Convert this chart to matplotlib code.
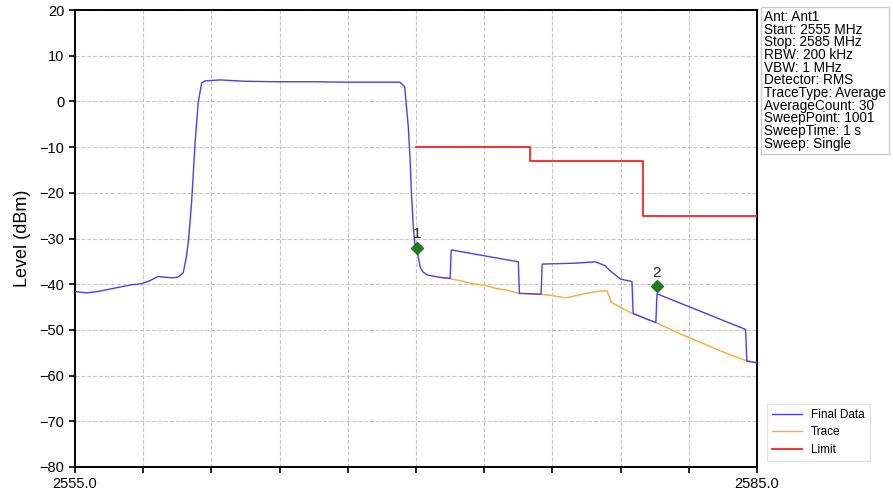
import matplotlib
matplotlib.use("Agg")
import matplotlib.pyplot as plt
import numpy as np

plt.rcParams['font.family'] = ['Liberation Sans', 'DejaVu Sans']

# Final Data (blue) trace: frequency (MHz), level (dBm)
final_freq = [2555.0, 2555.5, 2556.0, 2556.5, 2557.0, 2557.5, 2557.93, 2558.3, 2558.66, 2559.0,
              2559.32, 2559.55, 2559.76, 2559.9, 2560.0, 2560.13, 2560.28, 2560.42, 2560.57,
              2560.72, 2561.4, 2562.5, 2564.0, 2565.5, 2566.95, 2568.0, 2569.3, 2569.5, 2569.66,
              2569.74, 2569.8, 2569.88, 2569.96, 2570.03, 2570.18, 2570.3, 2570.5, 2571.06, 2571.5,
              2571.55, 2574.5, 2574.55, 2575.5, 2575.55, 2577.0, 2577.9, 2578.3, 2578.6, 2579.0,
              2579.5, 2579.55, 2580.55, 2580.6, 2584.5, 2584.55, 2585.0]
final_level = [-41.6, -41.9, -41.6, -41.1, -40.6, -40.1, -39.9, -39.2, -38.3, -38.5,
               -38.6, -38.4, -37.5, -34.0, -30.0, -22.0, -9.1, -0.2, 4.0,
               4.5, 4.7, 4.4, 4.3, 4.3, 4.2, 4.2, 4.2, 3.2, -5.5,
               -12.8, -20.1, -27.4, -31.8, -32.1, -36.2, -37.3, -38.0, -38.5, -38.7,
               -32.5, -35.1, -42.0, -42.2, -35.6, -35.4, -35.1, -35.9, -37.3, -38.9,
               -39.4, -46.4, -48.4, -42.1, -49.9, -56.8, -57.2]

# Trace (orange)
trace_freq = [2571.0, 2571.5, 2572.0, 2572.5, 2573.0, 2573.5, 2574.0, 2574.5, 2575.5, 2576.0,
              2576.6, 2577.3, 2577.9, 2578.4, 2578.6, 2579.5, 2580.55, 2581.5, 2582.5, 2583.5,
              2584.5, 2585.0]
trace_level = [-38.5, -38.8, -39.3, -39.9, -40.2, -40.9, -41.3, -42.0, -42.2, -42.5,
               -43.0, -42.2, -41.6, -41.4, -44.0, -46.4, -48.4, -50.6, -52.7, -54.8,
               -56.7, -57.2]

# Limit (red)
limit_freq = [2570.0, 2575.0, 2575.0, 2580.0, 2580.0, 2585.0]
limit_level = [-10.0, -10.0, -13.0, -13.0, -25.0, -25.0]

# Markers
marker_freq = [2570.03, 2580.6]
marker_level = [-32.1, -40.5]
marker_labels = ["1", "2"]

info_lines = ["Ant: Ant1", "Start: 2555 MHz", "Stop: 2585 MHz", "RBW: 200 kHz", "VBW: 1 MHz",
              "Detector: RMS", "TraceType: Average", "AverageCount: 30", "SweepPoint: 1001",
              "SweepTime: 1 s", "Sweep: Single"]

x_ticks = [2555, 2558, 2561, 2564, 2567, 2570, 2573, 2576, 2579, 2582, 2585]
x_ticklabels = ["2555.0", "", "", "", "", "", "", "", "", "", "2585.0"]
y_ticks = [20, 10, 0, -10, -20, -30, -40, -50, -60, -70, -80]

fig = plt.figure(figsize=(8.93, 5.0), dpi=100)
ax = fig.add_axes([75/893, 1-467/500, (757-75)/893, (467-10)/500])

ax.plot(trace_freq, trace_level, color='#FFA833', lw=1.0, label='Trace', zorder=2)
ax.plot(final_freq, final_level, color='#4B3FF0', lw=1.0, label='Final Data', zorder=3)
ax.plot(limit_freq, limit_level, color='#FF2020', lw=1.3, label='Limit', zorder=3)
ax.plot(marker_freq, marker_level, linestyle='none', marker='D', color='#1E7B1E', ms=6, zorder=4)
for f, l, t in zip(marker_freq, marker_level, marker_labels):
    ax.annotate(t, (f, l), xytext=(0, 5), textcoords='offset points', ha='center', va='bottom',
                fontsize=11, color='#222222')

ax.set_xlim(2555, 2585)
ax.set_ylim(-80, 20)
ax.set_xticks(x_ticks)
ax.set_xticklabels(x_ticklabels, fontsize=10.5)
ax.set_yticks(y_ticks)
ax.tick_params(axis='y', labelsize=10.5)
ax.tick_params(direction='out', length=4, width=1.2)
ax.grid(True, linestyle='--', color='#c8c8c8', lw=0.8)
for s in ax.spines.values():
    s.set_linewidth(1.4)
ax.set_ylabel("Level (dBm)", fontsize=13, labelpad=6)
ax.set_xlabel("Frequency (MHz)", fontsize=13, labelpad=12)

handles, labels = ax.get_legend_handles_labels()
order = [1, 0, 2]
fig.legend([handles[i] for i in order], [labels[i] for i in order],
           loc='lower left', bbox_to_anchor=(761/893, 1-467/500), fontsize=8.5,
           handlelength=2.5, frameon=True, edgecolor='#dddddd', fancybox=False,
           borderpad=0.45, labelspacing=0.45)

fig.text(764/893, 1-10/500, "\n".join(info_lines), ha='left', va='top', fontsize=9.8,
         linespacing=0.88,
         bbox=dict(boxstyle='square,pad=0.2', facecolor='white', edgecolor='#cccccc'))

fig.savefig("out.png", dpi=100)
